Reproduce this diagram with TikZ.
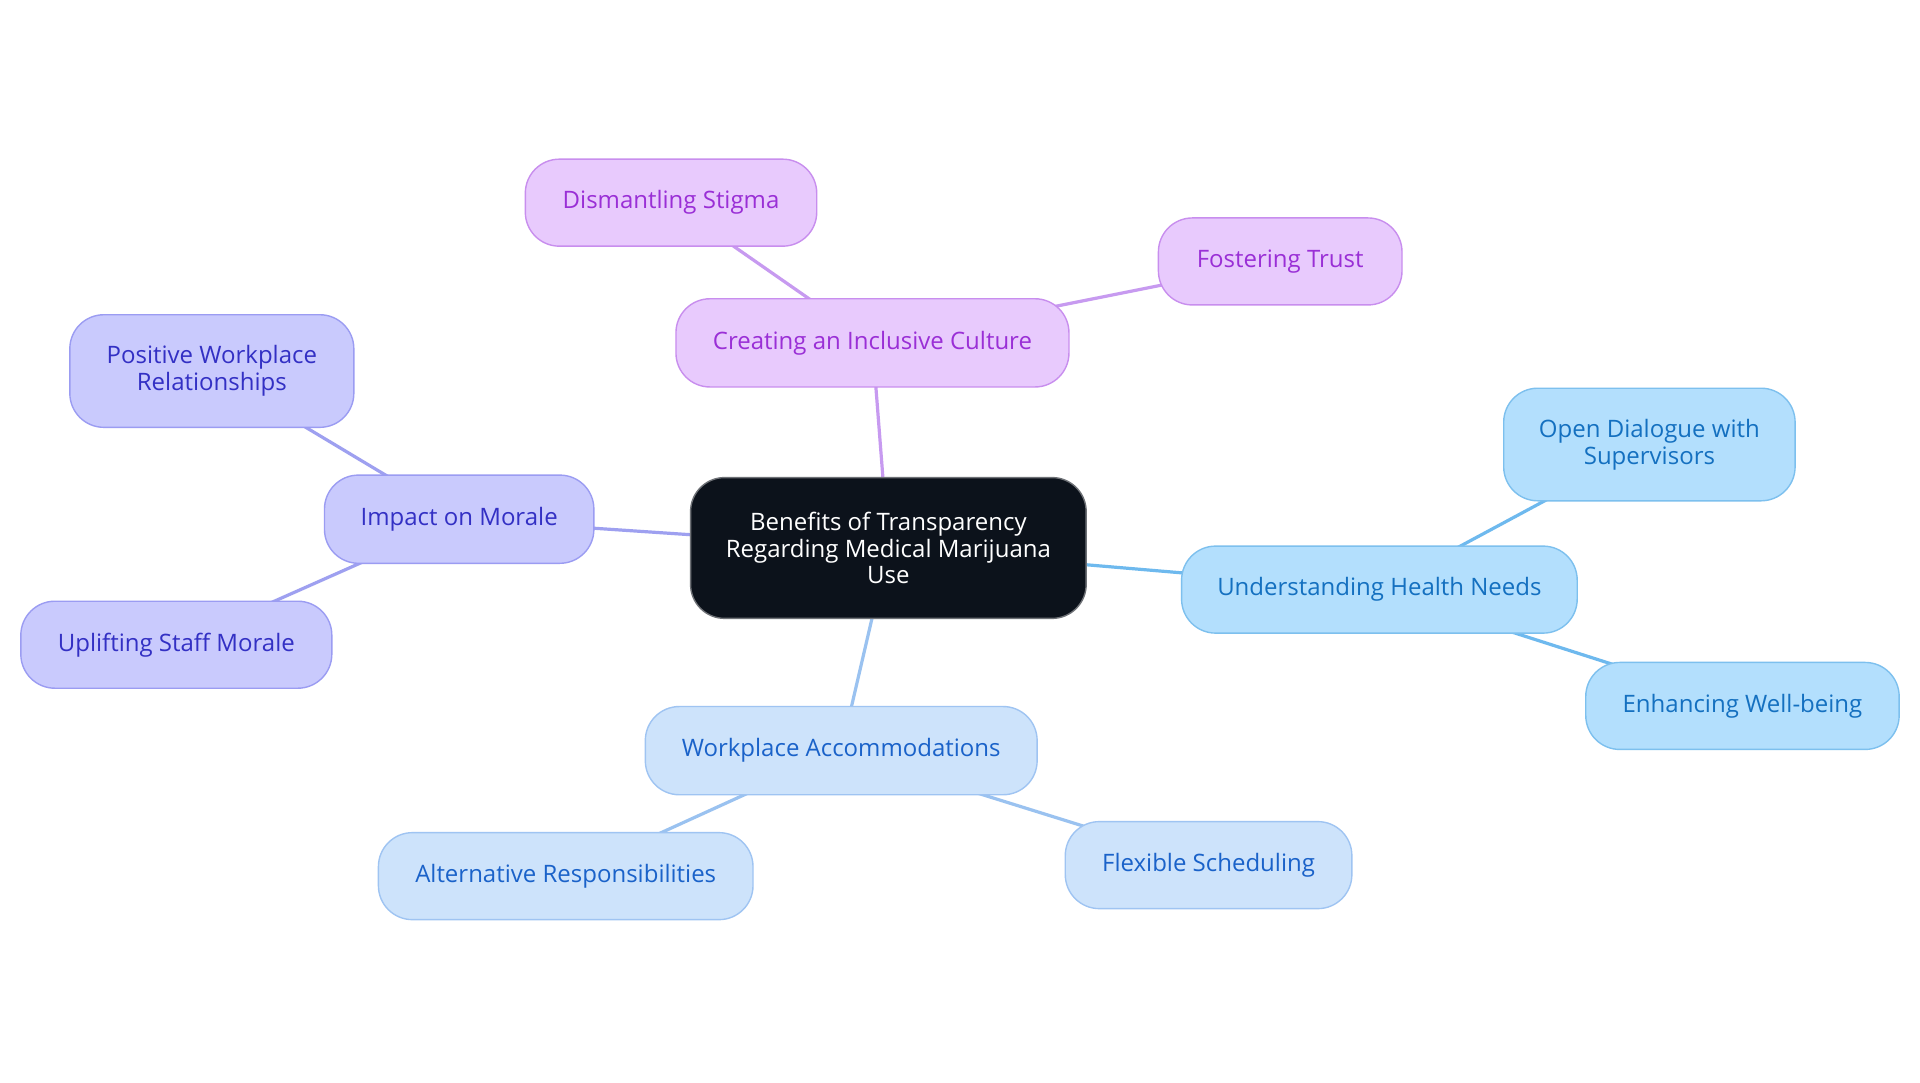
\documentclass[tikz,border=0pt]{standalone}
\usepackage{fontspec}
\setmainfont{Open Sans}
\usetikzlibrary{backgrounds}
\definecolor{cfill}{HTML}{0C121B}
\definecolor{cdraw}{HTML}{6E7176}
\definecolor{pfill}{HTML}{E8CAFD}
\definecolor{pdraw}{HTML}{C88EEE}
\definecolor{ptext}{HTML}{9A2FD6}
\definecolor{pline}{HTML}{C79AF0}
\definecolor{ifill}{HTML}{C9CAFD}
\definecolor{idraw}{HTML}{9B9CF2}
\definecolor{itext}{HTML}{3330C4}
\definecolor{iline}{HTML}{9EA0F0}
\definecolor{bfill}{HTML}{B3DFFD}
\definecolor{bdraw}{HTML}{7DC0EE}
\definecolor{btext}{HTML}{1470C0}
\definecolor{bline}{HTML}{6EB9EE}
\definecolor{wfill}{HTML}{CDE3FB}
\definecolor{wdraw}{HTML}{9FC4F2}
\definecolor{wtext}{HTML}{1A62C9}
\definecolor{wline}{HTML}{9AC2F0}
\tikzset{
  box/.style={rounded corners=17pt, inner sep=0pt, align=center, line width=0.7pt,
    font=\fontsize{12}{13.4}\selectfont},
  rootbox/.style={box, fill=cfill, draw=cdraw, text=white},
  pbox/.style={box, fill=pfill, draw=pdraw, text=ptext},
  ibox/.style={box, fill=ifill, draw=idraw, text=itext},
  bbox/.style={box, fill=bfill, draw=bdraw, text=btext},
  wbox/.style={box, fill=wfill, draw=wdraw, text=wtext},
  link/.style={line width=1.6pt},
}
\begin{document}
\begin{tikzpicture}[x=0.61225pt,y=-0.61225pt]
\useasboundingbox (0,0) rectangle (1568,884.4);
\node[rootbox, minimum width=197.8pt, minimum height=70.4pt] (root) at (725.5,447.5) {Benefits of Transparency\\Regarding Medical Marijuana\\Use};
\node[pbox, minimum width=196.5pt, minimum height=44.1pt] (cul) at (712.5,280) {Creating an Inclusive Culture};
\node[pbox, minimum width=145.7pt, minimum height=43.5pt] (dis) at (548,165.5) {Dismantling Stigma};
\node[pbox, minimum width=121.8pt, minimum height=43.5pt] (fos) at (1045.5,213.5) {Fostering Trust};
\node[ibox, minimum width=134.7pt, minimum height=44.1pt] (imp) at (375,424) {Impact on Morale};
\node[ibox, minimum width=142.0pt, minimum height=56.3pt] (pos) at (173,303) {Positive Workplace\\Relationships};
\node[ibox, minimum width=155.5pt, minimum height=43.5pt] (upl) at (144,526.5) {Uplifting Staff Morale};
\node[bbox, minimum width=197.8pt, minimum height=43.5pt] (und) at (1126.5,481.5) {Understanding Health Needs};
\node[bbox, minimum width=145.7pt, minimum height=56.3pt] (opn) at (1347,363) {Open Dialogue with\\Supervisors};
\node[bbox, minimum width=156.7pt, minimum height=43.5pt] (enh) at (1423,576.5) {Enhancing Well-being};
\node[wbox, minimum width=195.9pt, minimum height=44.1pt] (wpa) at (687,613) {Workplace Accommodations};
\node[wbox, minimum width=187.3pt, minimum height=43.5pt] (alt) at (462,715.5) {Alternative Responsibilities};
\node[wbox, minimum width=143.3pt, minimum height=43.5pt] (flx) at (987,706.5) {Flexible Scheduling};
\begin{scope}[on background layer]
\fill[white] (0,0) rectangle (1568,884.4);
\draw[link, pline] (root.center) -- (cul.center);
\draw[link, pline] (cul.center) -- (dis.center);
\draw[link, pline] (cul.center) -- (fos.center);
\draw[link, iline] (root.center) -- (imp.center);
\draw[link, iline] (imp.center) -- (pos.center);
\draw[link, iline] (imp.center) -- (upl.center);
\draw[link, bline] (root.center) -- (und.center);
\draw[link, bline] (und.center) -- (opn.center);
\draw[link, bline] (und.center) -- (enh.center);
\draw[link, wline] (root.center) -- (wpa.center);
\draw[link, wline] (wpa.center) -- (alt.center);
\draw[link, wline] (wpa.center) -- (flx.center);
\end{scope}
\end{tikzpicture}
\end{document}
